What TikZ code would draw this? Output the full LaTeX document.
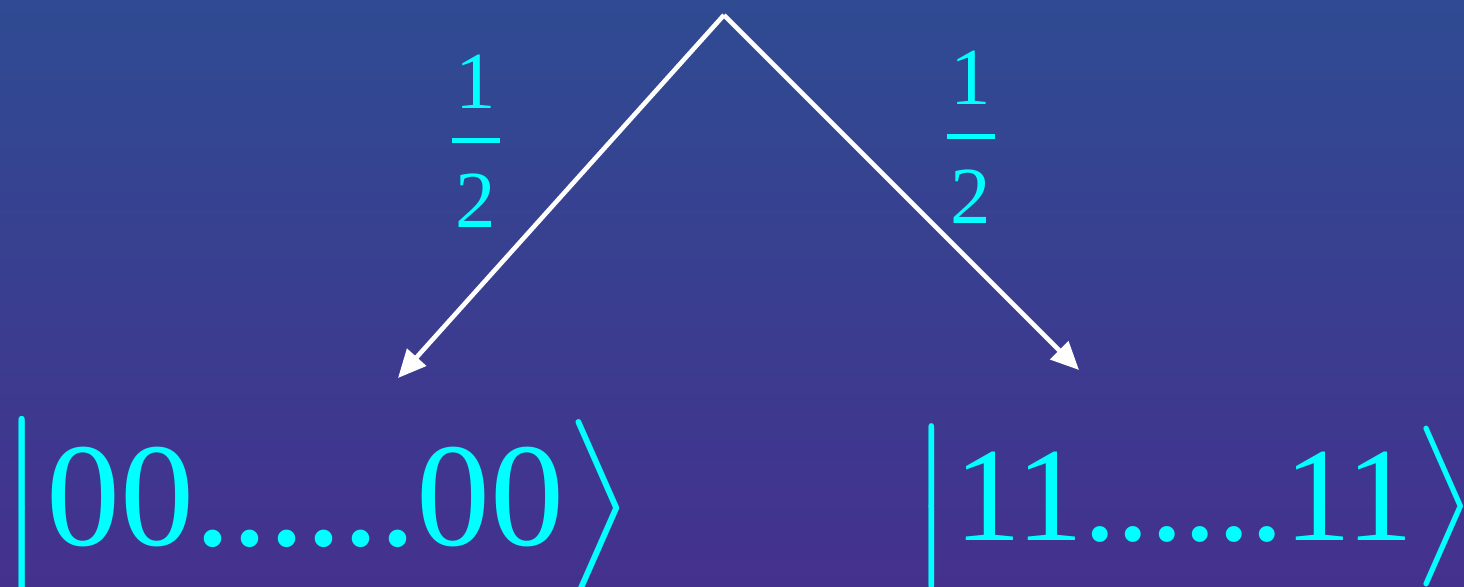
\documentclass[tikz,border=0pt]{standalone}
\usepackage{amsmath}
\usepackage{fontspec}
\setmainfont{Liberation Serif}
\usepackage{tikz}
\usetikzlibrary{arrows.meta}
\definecolor{bgtop}{RGB}{47,75,146}
\definecolor{bgbottom}{RGB}{68,49,142}
\definecolor{ketcyan}{RGB}{0,255,255}
\tikzset{
    ketnode/.style={text=ketcyan, inner sep=0pt},
    fracnode/.style={text=ketcyan, inner sep=0pt, font=\fontsize{40.5}{48}\selectfont},
    splitarrow/.style={-{Triangle[length=14pt,width=12.5pt]}, line width=2.3pt, white}
}
\newcommand{\halfprob}{\shortstack{1\\[12pt]\rule{24pt}{2.5pt}\\[12pt]2}}
\newcommand{\bigket}[2]{\scalebox{#1}{\nulldelimiterspace=0pt$\left|\vcenter to 11.5pt{}\right.$#2$\left.\vcenter to 11.5pt{}\right\rangle$}}

\begin{document}
\begin{tikzpicture}[x=0.5pt, y=-0.5pt]
    \clip (0,0) rectangle (1464,586);
    \shade[top color=bgtop, bottom color=bgbottom] (0,0) rectangle (1464,586);

    \coordinate (root) at (724,15);
    \coordinate (tipzero) at (398,378);
    \coordinate (tipone) at (1079,370);

    \node[ketnode, anchor=base west] (zeros) at (-3,545) {\bigket{7.4}{00......00}};
    \node[ketnode, anchor=base east] (ones) at (1477,540) {\bigket{6.7}{11......11}};

    \draw[splitarrow] (root) -- (tipzero);
    \draw[splitarrow] (root) -- (tipone);

    \node[fracnode] (probzero) at (476,141) {\halfprob};
    \node[fracnode] (probone) at (971,137) {\halfprob};
\end{tikzpicture}
\end{document}
